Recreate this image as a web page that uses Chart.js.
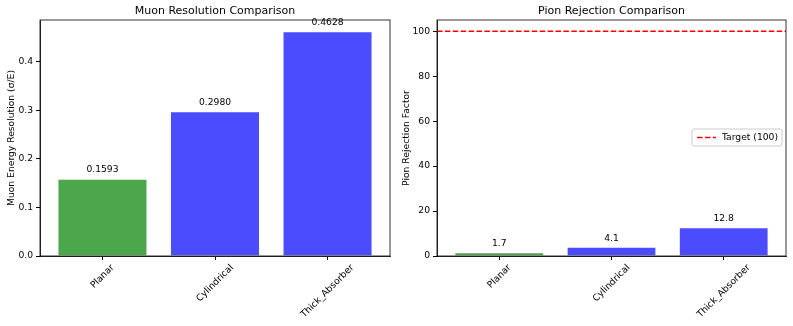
<!DOCTYPE html>
<html>
<head>
<meta charset="utf-8">
<script src="https://cdn.jsdelivr.net/npm/chart.js@4.4.0/dist/chart.umd.min.js"></script>
<style>
  html, body { margin: 0; padding: 0; background: #fff; }
  #wrap { position: relative; width: 793px; height: 326px; }
  .box { position: absolute; top: 0; height: 326px; }
</style>
</head>
<body>
<div id="wrap">
  <div class="box" style="left:0;width:395px"><canvas id="muonChart"></canvas></div>
  <div class="box" style="left:395px;width:398px"><canvas id="pionChart"></canvas></div>
</div>
<script>
const categories = ["Planar", "Cylindrical", "Thick_Absorber"];
const muonResolution = [0.1593, 0.2980, 0.4628];
const pionRejection = [1.7, 4.1, 12.8];
const targetRejection = 100;
const barColors = ["rgba(0,128,0,0.7)", "rgba(0,0,255,0.7)", "rgba(0,0,255,0.7)"];
const muonTicks = [0, 0.1, 0.2, 0.3, 0.4];
const pionTicks = [0, 20, 40, 60, 80, 100];

const FONT = "'DejaVu Sans', sans-serif";
const FS = 9.2;
const DASH = [5.5, 2.4];
Chart.defaults.font.family = FONT;
Chart.defaults.color = "#000";
Chart.defaults.animation = false;

const X_MIN = -0.555;
const X_MAX = 2.555;

// frame, title, value labels and centred rotated x labels like matplotlib
const decorPlugin = {
  id: "decor",
  afterDraw(chart, args, opts) {
    const ctx = chart.ctx;
    const area = chart.chartArea;
    ctx.save();
    ctx.strokeStyle = "#000";
    ctx.lineWidth = 0.8;
    ctx.strokeRect(area.left, area.top, area.right - area.left, area.bottom - area.top);

    // title
    ctx.fillStyle = "#000";
    ctx.font = "11px " + FONT;
    ctx.textAlign = "center";
    ctx.textBaseline = "middle";
    ctx.fillText(opts.title, (area.left + area.right) / 2, 11);

    // value labels
    const meta = chart.getDatasetMeta(0);
    ctx.font = FS + "px " + FONT;
    ctx.textBaseline = "bottom";
    meta.data.forEach((bar, i) => {
      const v = chart.data.datasets[0].data[i].y;
      ctx.fillText(opts.fmt(v), bar.x, bar.y - 4);
    });

    // x labels
    const xs = chart.scales.x;
    categories.forEach((lab, i) => {
      const px = xs.getPixelForValue(i);
      const w = ctx.measureText(lab).width;
      const h = FS;
      const top = area.bottom + 7;
      const cy = top + (w + h) * Math.SQRT1_2 / 2;
      ctx.save();
      ctx.translate(px, cy);
      ctx.rotate(-Math.PI / 4);
      ctx.textAlign = "center";
      ctx.textBaseline = "middle";
      ctx.fillText(lab, 0, 0);
      ctx.restore();
    });

    // legend
    if (opts.legend) {
      const lx = area.right - 94, ly = (area.top + area.bottom) / 2 - 9;
      ctx.fillStyle = "rgba(255,255,255,0.8)";
      ctx.strokeStyle = "#ccc";
      ctx.lineWidth = 1;
      ctx.beginPath();
      ctx.roundRect(lx, ly, 90, 17, 2);
      ctx.fill();
      ctx.stroke();
      ctx.strokeStyle = "red";
      ctx.lineWidth = 1.5;
      ctx.setLineDash(DASH);
      ctx.beginPath();
      ctx.moveTo(lx + 5, ly + 8.5);
      ctx.lineTo(lx + 24, ly + 8.5);
      ctx.stroke();
      ctx.setLineDash([]);
      ctx.fillStyle = "#000";
      ctx.textAlign = "left";
      ctx.textBaseline = "middle";
      ctx.fillText(opts.legend, lx + 30, ly + 9);
    }
    ctx.restore();
  }
};

function tickColor(list) {
  return c => (c.tick && list.some(v => Math.abs(v - c.tick.value) < 1e-9)) ? "#000" : "rgba(0,0,0,0)";
}

function makeChart(id, values, title, yTitle, yMax, yTicks, yWidth, padRight, fmt, tickFmt, extraSets, legend) {
  const xTicks = categories.map((c, i) => i);
  const datasets = [{
    type: "bar",
    data: values.map((v, i) => ({ x: i, y: v })),
    backgroundColor: barColors,
    borderColor: "rgba(255,255,255,0.45)",
    borderWidth: 1,
    categoryPercentage: 1,
    barPercentage: 0.8,
    order: 2
  }].concat(extraSets);

  return new Chart(document.getElementById(id), {
    type: "bar",
    data: { datasets: datasets },
    plugins: [decorPlugin],
    options: {
      responsive: true,
      maintainAspectRatio: false,
      layout: { padding: { left: 0, right: padRight, top: 20, bottom: 0 } },
      plugins: {
        legend: { display: false },
        tooltip: { enabled: false },
        title: { display: false },
        decor: { fmt: fmt, legend: legend, title: title }
      },
      scales: {
        x: {
          type: "linear",
          min: X_MIN,
          max: X_MAX,
          offset: false,
          grid: { offset: false, drawOnChartArea: false, drawTicks: true, tickLength: 4, color: tickColor(xTicks) },
          border: { display: true, color: "#000", width: 0.8 },
          afterBuildTicks: s => { s.ticks = xTicks.map(v => ({ value: v })); },
          afterFit: s => { s.height = 70; },
          ticks: { stepSize: 1, includeBounds: false, callback: () => "", font: { size: FS } }
        },
        y: {
          min: 0,
          max: yMax,
          grid: { offset: false, drawOnChartArea: false, drawTicks: true, tickLength: 4, color: tickColor(yTicks) },
          border: { display: true, color: "#000", width: 0.8 },
          afterBuildTicks: s => { s.ticks = yTicks.map(v => ({ value: v })); },
          afterFit: s => { s.width = yWidth; },
          title: { display: true, text: yTitle, font: { size: FS }, color: "#000", padding: { top: 6, bottom: 2 } },
          ticks: { includeBounds: false, font: { size: FS }, color: "#000", padding: 3, callback: tickFmt }
        }
      }
    }
  });
}

makeChart("muonChart", muonResolution, "Muon Resolution Comparison",
  "Muon Energy Resolution (σ/E)", 0.486, muonTicks, 40, 5,
  v => v.toFixed(4), v => v.toFixed(1), [], null);

makeChart("pionChart", pionRejection, "Pion Rejection Comparison",
  "Pion Rejection Factor", 105, pionTicks, 42, 7,
  v => v.toFixed(1), v => String(v),
  [{
    type: "line",
    label: "Target (100)",
    data: [{ x: X_MIN, y: targetRejection }, { x: X_MAX, y: targetRejection }],
    borderColor: "red",
    borderWidth: 1.5,
    borderDash: DASH,
    pointRadius: 0,
    fill: false,
    order: 1
  }], "Target (100)");
</script>
</body>
</html>
